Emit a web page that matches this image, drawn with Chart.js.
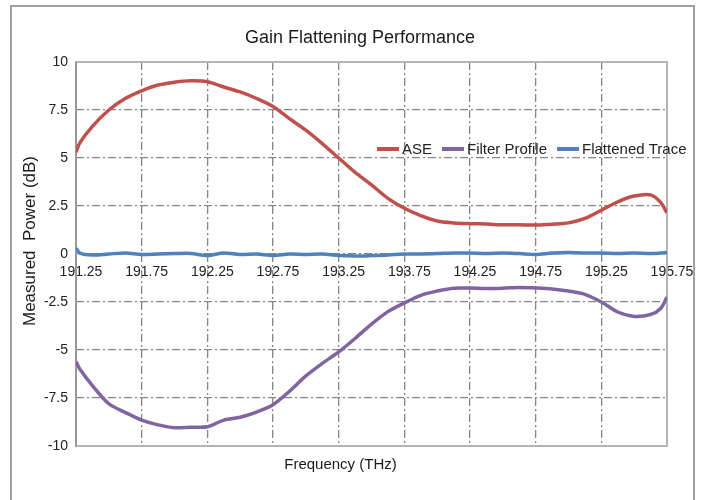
<!DOCTYPE html>
<html>
<head>
  <title>Gain Flattening Performance</title>
  <script src="https://cdn.jsdelivr.net/npm/chart.js"></script>
  <style>
    body { margin: 0; background: #fff; }
    #wrap { width: 703px; height: 500px; }
  </style>
</head>
<body>
  <div id="wrap"><canvas id="gainChart" width="703" height="500"></canvas></div>

  <script>
    // frequency samples (THz) and values (dB)
    const freqs = [191.25, 191.28, 191.375, 191.5, 191.625, 191.75, 191.875, 192.0, 192.125, 192.25,
      192.375, 192.5, 192.625, 192.75, 192.875, 193.0, 193.125, 193.25, 193.375, 193.5,
      193.625, 193.75, 193.875, 194.0, 194.125, 194.25, 194.375, 194.5, 194.625, 194.75,
      194.875, 195.0, 195.125, 195.25, 195.375, 195.5, 195.625, 195.7, 195.75];
    const ase = [5.3, 5.8, 6.65, 7.5, 8.1, 8.5, 8.8, 8.95, 9.02, 8.97,
      8.7, 8.44, 8.1, 7.68, 7.05, 6.45, 5.75, 5.0, 4.25, 3.6,
      2.9, 2.38, 2.0, 1.72, 1.62, 1.58, 1.56, 1.52, 1.52, 1.51,
      1.55, 1.62, 1.85, 2.28, 2.72, 3.02, 3.08, 2.7, 2.15];
    const filterProfile = [-5.6, -6.0, -6.85, -7.8, -8.25, -8.65, -8.9, -9.05, -9.02, -9.0,
      -8.65, -8.5, -8.23, -7.85, -7.15, -6.35, -5.7, -5.1, -4.4, -3.65,
      -3.0, -2.55, -2.15, -1.93, -1.78, -1.77, -1.8, -1.78, -1.74, -1.77,
      -1.82, -1.93, -2.1, -2.5, -3.02, -3.25, -3.15, -2.85, -2.25];
    const flattened = [0.3, 0.05, -0.05, 0.0, 0.05, -0.02, 0.0, 0.02, 0.03, -0.08,
      0.05, -0.03, 0.0, -0.08, 0.0, -0.02, 0.0, -0.08, -0.1, -0.08,
      -0.05, 0.0, 0.0, 0.02, 0.05, 0.05, 0.03, 0.05, 0.02, -0.02,
      0.05, 0.08, 0.05, 0.05, 0.03, 0.05, 0.02, 0.05, 0.08];
    const seriesNames = ["ASE", "Filter Profile", "Flattened Trace"];
    const seriesColors = ["#c0504d", "#8064a2", "#4f81bd"];
    const chartTitle = "Gain Flattening Performance";
    const yTitle = "Measured  Power (dB)";

    const pts = vals => vals.map((v, i) => ({ x: freqs[i], y: v }));
    const FONT = "'Liberation Sans', Arial, sans-serif";

    // outer frame, titles, plot frame
    const frames = {
      id: "frames",
      beforeDraw(chart) {
        const c = chart.ctx;
        c.save();
        c.fillStyle = "#fff";
        c.fillRect(0, 0, chart.width, chart.height);
        c.strokeStyle = "#a0a0a0";
        c.lineWidth = 2;
        c.strokeRect(11, 6, 683, 520);
        c.fillStyle = "#1a1a1a";
        c.font = "18px " + FONT;
        c.textAlign = "center";
        c.textBaseline = "middle";
        c.fillText(chartTitle, 360, 38);
        c.translate(30, 241);
        c.rotate(-Math.PI / 2);
        c.font = "17px " + FONT;
        c.fillText(yTitle, 0, 0);
        c.restore();
      },
      beforeDatasetsDraw(chart) {
        const a = chart.chartArea, c = chart.ctx;
        c.save();
        c.strokeStyle = "#b4b4b4";
        c.lineWidth = 2;
        c.strokeRect(a.left, a.top, a.right - a.left, a.bottom - a.top);
        c.strokeStyle = "#999";
        c.beginPath();
        c.moveTo(a.left, a.top);
        c.lineTo(a.left, a.bottom + 1);
        c.stroke();
        c.restore();
      }
    };

    // legend drawn inside the plot, right side
    const inlineLegend = {
      id: "inlineLegend",
      afterDraw(chart) {
        const c = chart.ctx;
        c.save();
        c.font = "15px " + FONT;
        c.textBaseline = "middle";
        let x = 377;
        const y = 149;
        chart.data.datasets.forEach(ds => {
          c.strokeStyle = ds.borderColor;
          c.lineWidth = 4;
          c.beginPath();
          c.moveTo(x, y);
          c.lineTo(x + 22, y);
          c.stroke();
          x += 25;
          c.fillStyle = "#222";
          c.fillText(ds.label, x, y + 1);
          x += c.measureText(ds.label).width + 10;
        });
        c.restore();
      }
    };

    new Chart(document.getElementById("gainChart"), {
      type: "line",
      data: {
        datasets: seriesNames.map((name, k) => ({
          label: name,
          data: pts([ase, filterProfile, flattened][k]),
          borderColor: seriesColors[k],
          backgroundColor: seriesColors[k],
          borderWidth: 3.5,
          pointRadius: 0,
          tension: 0.3,
          fill: false
        }))
      },
      options: {
        responsive: false,
        animation: false,
        layout: { padding: { left: 14, right: 36, top: 62, bottom: 0 } },
        plugins: {
          legend: { display: false },
          tooltip: { enabled: false },
          title: { display: false },
          subtitle: {
            display: true,
            position: "bottom",
            text: "Frequency (THz)",
            color: "#1a1a1a",
            font: { family: FONT, size: 15 },
            padding: { top: 10, bottom: 26 }
          }
        },
        scales: {
          x: {
            type: "linear",
            min: 191.25,
            max: 195.75,
            position: { y: 0 },
            ticks: {
              stepSize: 0.5,
              padding: 10,
              labelOffset: 5,
              color: "#222",
              font: { family: FONT, size: 14 },
              maxRotation: 0,
              callback: v => v.toFixed(2)
            },
            grid: { color: "#858585", lineWidth: 1.3, drawTicks: false },
            border: { display: false, dash: [8, 3, 2, 3] }
          },
          y: {
            min: -10,
            max: 10,
            ticks: {
              stepSize: 2.5,
              padding: 8,
              color: "#222",
              font: { family: FONT, size: 14 }
            },
            grid: { color: "#858585", lineWidth: 1.3, drawTicks: false },
            border: { display: false, dash: [8, 3, 2, 3] },
            title: { display: false },
            afterFit(scale) { scale.width = 62; }
          }
        }
      },
      plugins: [frames, inlineLegend]
    });
  </script>
</body>
</html>
